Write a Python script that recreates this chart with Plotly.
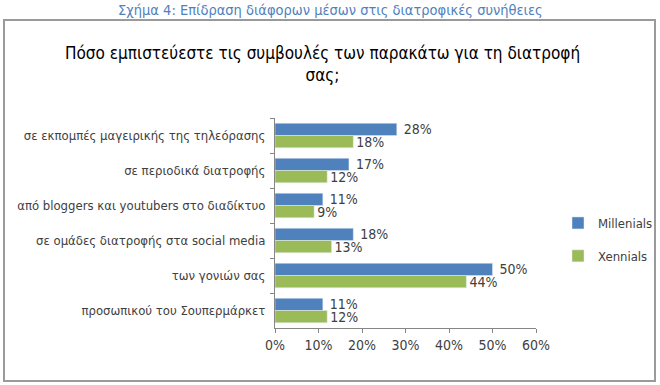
import plotly.graph_objects as go

categories = [
    "σε εκπομπές μαγειρικής της τηλεόρασης",
    "σε περιοδικά διατροφής",
    "από bloggers και youtubers στο διαδίκτυο",
    "σε ομάδες διατροφής στα social media",
    "των γονιών σας",
    "προσωπικού του Σουπερμάρκετ",
]
millenials = [28, 17, 11, 18, 50, 11]
xennials = [18, 12, 9, 13, 44, 12]
x_ticks = [0, 10, 20, 30, 40, 50, 60]

FONT = "DejaVu Sans Condensed, Liberation Sans Narrow, Liberation Sans, sans-serif"

fig = go.Figure()
fig.add_trace(go.Bar(
    y=categories, x=millenials, name="Millenials", orientation="h",
    marker=dict(color="#4F81BD"), legendgroup="m",
    text=[f" {v}%" for v in millenials], textposition="outside",
    constraintext="none",
    textfont=dict(size=14, color="#404040", family=FONT), cliponaxis=False,
))
fig.add_trace(go.Bar(
    y=categories, x=xennials, name="Xennials", orientation="h",
    marker=dict(color="#9BBB59"), legendgroup="x",
    text=[f"{v}%" for v in xennials], textposition="outside",
    constraintext="none",
    textfont=dict(size=14, color="#404040", family=FONT), cliponaxis=False,
))

L, R, T, B = 275, 536, 118, 328
W, H = 660, 385
def px(x):
    return (x - L) / (R - L)
def py(y):
    return (B - y) / (B - T)

fig.update_layout(
    width=W, height=H,
    margin=dict(l=L, r=W - R, t=T, b=H - B, autoexpand=False),
    paper_bgcolor="white", plot_bgcolor="white",
    barmode="group", bargap=0.3, bargroupgap=0,
    font=dict(family=FONT, color="#404040", size=13),
    showlegend=True,
    legend=dict(x=px(558), y=py(208), xanchor="left", yanchor="top",
                traceorder="grouped", font=dict(size=13, color="#404040"),
                itemwidth=30, tracegroupgap=13, bgcolor="rgba(0,0,0,0)"),
    xaxis=dict(range=[0, 60], tickvals=x_ticks,
               ticktext=[f"{v}%" for v in x_ticks], automargin=False,
               showgrid=False, showline=True, linecolor="#868686", linewidth=1,
               ticks="outside", ticklen=4, tickcolor="#868686",
               tickfont=dict(size=14, color="#404040"), zeroline=False),
    yaxis=dict(autorange="reversed", showgrid=False, showline=True,
               automargin=False, ticklabelstandoff=6,
               linecolor="#868686", linewidth=1, ticks="outside", ticklen=4,
               tickcolor="#868686", tickson="boundaries",
               tickfont=dict(size=13, color="#404040")),
    shapes=[dict(type="rect", xref="paper", yref="paper",
                 x0=px(4), x1=px(655), y0=py(381), y1=py(20),
                 line=dict(color="#9A9A9A", width=2), fillcolor="rgba(0,0,0,0)",
                 layer="below")],
    annotations=[
        dict(text="Σχήμα 4: Επίδραση διάφορων μέσων στις διατροφικές συνήθειες",
             xref="paper", yref="paper", x=px(330), y=py(10),
             xanchor="center", yanchor="middle", showarrow=False,
             font=dict(size=14.5, color="#4F81BD", family=FONT)),
        dict(text="Πόσο εμπιστεύεστε τις συμβουλές των παρακάτω για τη διατροφή<br>σας;",
             xref="paper", yref="paper", x=px(322), y=py(64),
             xanchor="center", yanchor="middle", showarrow=False,
             font=dict(size=17, color="black", family=FONT)),
    ],
)

fig.write_html("out.html", config={"displayModeBar": False},
               post_script="document.body.style.margin='0';")
